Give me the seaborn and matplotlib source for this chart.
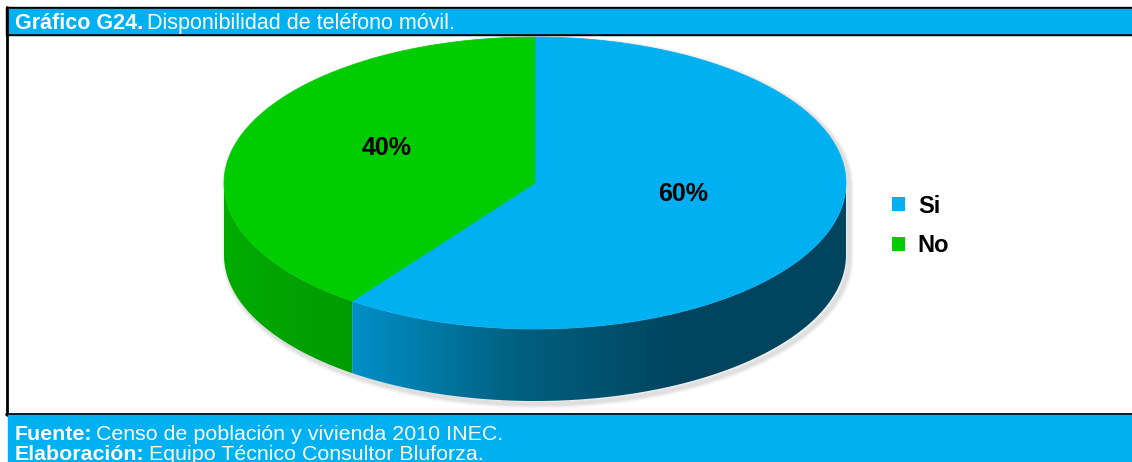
import numpy as np
import seaborn as sns
import matplotlib
matplotlib.use("Agg")
import matplotlib.pyplot as plt
from matplotlib.patches import Polygon, Rectangle, Patch
from matplotlib.colors import LinearSegmentedColormap

sns.set_style("white")
plt.rcParams['font.family'] = ['Liberation Sans', 'DejaVu Sans']

# data
categories = ['Si', 'No']
values = [60, 40]
title_bold = 'Gráfico G24.'
title_rest = 'Disponibilidad de teléfono móvil.'
source_bold = ['Fuente:', 'Elaboración:']
source_rest = ['Censo de población y vivienda 2010 INEC.',
               'Equipo Técnico Consultor Bluforza.']

top_colors = ['#00B0F0', '#00CC00']
side_colors = [['#0090C8', '#00607F', '#00445F', '#00445E'],
               ['#00AC00', '#00A200', '#009C00']]
band = '#00B0F0'

W, H = 1132, 462
fig = plt.figure(figsize=(W / 100, H / 100), dpi=100)
ax = fig.add_axes([0, 0, 1, 1])
ax.set_xlim(0, W)
ax.set_ylim(H, 0)
ax.axis('off')

# frame and bands
ax.add_patch(Rectangle((6, 7), W - 6, 28, color='black', zorder=1))
ax.add_patch(Rectangle((8, 9), W - 8, 24, color=band, zorder=2))
ax.plot([7, 7], [7, 415], color='black', lw=2, zorder=2)
ax.plot([6, W], [414, 414], color='black', lw=2, zorder=2)
ax.add_patch(Rectangle((8, 415), W - 8, H - 415, color=band, zorder=2))

# pie geometry (pixels)
cx, cy, a, b, depth = 535, 183, 311, 146, 72


def ell(th, dy=0):
    return cx + a * np.cos(th), cy - b * np.sin(th) + dy


# shadow
th_all = np.linspace(0, 2 * np.pi, 400)
sx_top, sy_top = ell(th_all[th_all <= np.pi])
sx_bot, sy_bot = ell(th_all[th_all >= np.pi], depth)
outline = np.column_stack([np.r_[sx_top, sx_bot], np.r_[sy_top, sy_bot]])
for k, al in zip([7, 5, 3], [0.06, 0.08, 0.12]):
    ax.add_patch(Polygon(outline + [3, 3], closed=True, facecolor='none',
                         edgecolor='gray', lw=k, alpha=al, zorder=3))

# wedges: start at 12 o'clock, clockwise
fracs = np.array(values) / sum(values)
bounds = np.pi / 2 - 2 * np.pi * np.r_[0, np.cumsum(fracs)]
for i, cat in enumerate(categories):
    t1, t2 = bounds[i + 1], bounds[i]
    th = np.linspace(t1, t2, 300)
    # side wall (front half only)
    front = th[np.sin(th) <= 0]
    if len(front) > 1:
        x1, y1 = ell(front)
        x2, y2 = ell(front[::-1], depth)
        side = Polygon(np.column_stack([np.r_[x1, x2], np.r_[y1, y2]]),
                       closed=True, facecolor='none', edgecolor='none', zorder=4)
        ax.add_patch(side)
        cmap = LinearSegmentedColormap.from_list('s%d' % i, side_colors[i])
        xmin, xmax = min(x1.min(), x2.min()), max(x1.max(), x2.max())
        grad = np.linspace(0, 1, 256).reshape(1, -1)
        im = ax.imshow(grad, cmap=cmap, aspect='auto', zorder=4,
                       extent=[xmin, xmax, y1.max() + depth, y1.min()])
        im.set_clip_path(side)
    # top
    xt, yt = ell(th)
    ax.add_patch(Polygon(np.column_stack([np.r_[cx, xt], np.r_[cy, yt]]),
                         closed=True, facecolor=top_colors[i],
                         edgecolor=top_colors[i], lw=0.5, zorder=5))
    mid = (t1 + t2) / 2
    lx, ly = ell(mid)
    lx = cx + 0.5 * (lx - cx)
    ly = cy + 0.5 * (ly - cy) - 12
    ax.text(lx, ly, '%d%%' % values[i], ha='center', va='center',
            fontsize=18, fontweight='bold', color='black', zorder=6)

ax.set_xlim(0, W)
ax.set_ylim(H, 0)

# legend
handles = [Patch(facecolor=c, edgecolor='none', label=n)
           for c, n in zip(top_colors, categories)]
leg = ax.legend(handles=handles, loc='center left',
                bbox_to_anchor=(880 / W, 1 - 226 / H),
                frameon=False, handlelength=0.55, handleheight=0.55,
                handletextpad=0.55, labelspacing=0.7, borderpad=0,
                prop={'weight': 'bold', 'size': 17})
for t in leg.get_texts():
    t.set_color('black')

# header / footer text
fig.canvas.draw()
renderer = fig.canvas.get_renderer()
inv = ax.transData.inverted()


def two_part(x, y, bold, rest, size):
    t = ax.text(x, y, bold, fontsize=size, fontweight='bold', color='white',
                va='baseline', zorder=7)
    bb = t.get_window_extent(renderer)
    xe = inv.transform((bb.x1, bb.y0))[0]
    ax.text(xe + 4, y, rest, fontsize=size, color='white', va='baseline', zorder=7)


two_part(15, 29, title_bold, title_rest, 15.5)
two_part(15, 439.5, source_bold[0], source_rest[0], 15.4)
two_part(15, 460, source_bold[1], source_rest[1], 15.4)

fig.savefig('out.png', dpi=100)
